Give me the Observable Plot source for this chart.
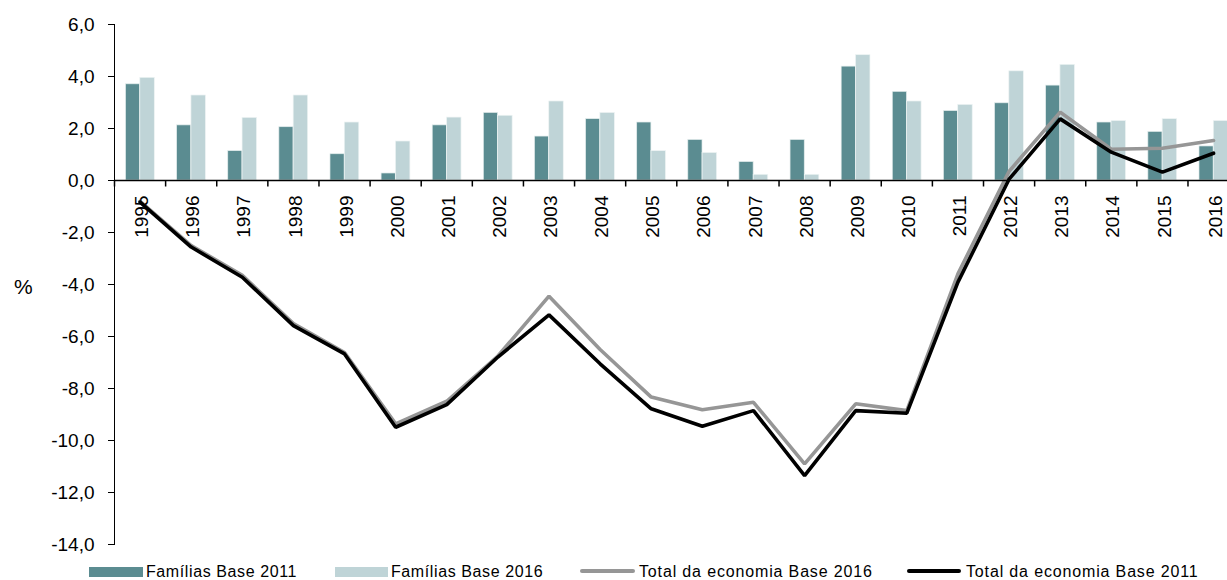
<!DOCTYPE html>
<html>
<head>
<meta charset="utf-8">
<script src="https://cdn.jsdelivr.net/npm/d3@7"></script>
<script src="https://cdn.jsdelivr.net/npm/@observablehq/plot@0.6"></script>
<style>
html, body { margin: 0; padding: 0; background: #fff; }
#wrap { position: relative; width: 1227px; height: 580px; overflow: hidden; font-family: "Liberation Sans", Arial, sans-serif; color: #000; }
#chart svg { display: block; overflow: hidden; }
#pct { position: absolute; left: 14px; top: 276px; font-size: 21px; line-height: 21px; }
.legtext { position: absolute; top: 563px; font-size: 16px; line-height: 18px; white-space: nowrap; }
.sw { position: absolute; }
</style>
</head>
<body>
<div id="wrap">
  <div id="chart"></div>
  <div id="pct">%</div>
  <div id="legend"></div>
</div>
<script>
// ---- data ----
const years = [1995,1996,1997,1998,1999,2000,2001,2002,2003,2004,2005,2006,2007,2008,2009,2010,2011,2012,2013,2014,2015,2016];
const familiasBase2011 = [3.70,2.12,1.13,2.05,1.01,0.27,2.12,2.60,1.69,2.36,2.23,1.56,0.71,1.56,4.38,3.41,2.67,2.97,3.65,2.23,1.87,1.31];
const familiasBase2016 = [3.95,3.27,2.41,3.27,2.23,1.50,2.42,2.49,3.04,2.60,1.13,1.06,0.22,0.22,4.82,3.04,2.91,4.20,4.45,2.29,2.36,2.29];
const totalBase2016 = [-0.80,-2.50,-3.65,-5.50,-6.62,-9.36,-8.49,-6.75,-4.45,-6.50,-8.33,-8.82,-8.53,-10.90,-8.59,-8.85,-3.59,0.35,2.63,1.20,1.24,1.54];
const totalBase2011 = [-0.83,-2.56,-3.72,-5.58,-6.67,-9.49,-8.62,-6.79,-5.17,-7.05,-8.78,-9.45,-8.85,-11.35,-8.85,-8.95,-3.91,0.05,2.37,1.09,0.32,1.05];
const yTicks = [-14,-12,-10,-8,-6,-4,-2,0,2,4,6];
const seriesNames = ["Famílias Base 2011","Famílias Base 2016","Total da economia Base 2016","Total da economia Base 2011"];
const seriesColors = ["#5b8c91","#bfd4d7","#969696","#000000"];

// ---- tables built from the arrays ----
const rows = (vals) => years.map((year, i) => ({year, value: vals[i]}));
const f2011 = rows(familiasBase2011);
const f2016 = rows(familiasBase2016);
const t2016 = rows(totalBase2016);
const t2011 = rows(totalBase2011);
const boundaries = years.map(y => y - 0.5);

const fmt = d => d.toFixed(1).replace(".", ",");

const chart = Plot.plot({
  width: 1227,
  height: 555,
  marginTop: 24,
  marginBottom: 11,
  marginLeft: 114,
  marginRight: 0,
  style: {fontFamily: "Liberation Sans, Arial, sans-serif", fontSize: "19px", color: "#000", background: "#fff"},
  x: {type: "linear", domain: [years[0] - 0.5, years[years.length - 1] + 0.5], range: [114, 1238.6], axis: null},
  y: {domain: [yTicks[0], yTicks[yTicks.length - 1]], ticks: yTicks, tickSize: 6, tickPadding: 14, tickFormat: fmt, label: null, line: true},
  marks: [
    Plot.rect(f2011, {x1: d => d.year - 0.5, x2: d => d.year + 0.5, y1: () => 0, y2: "value", fill: seriesColors[0], stroke: "#e4eded", strokeWidth: 0.7, insetLeft: 11.5, insetRight: 25.4}),
    Plot.rect(f2016, {x1: d => d.year - 0.5, x2: d => d.year + 0.5, y1: () => 0, y2: "value", fill: seriesColors[1], stroke: "#eef4f4", strokeWidth: 0.7, insetLeft: 25.8, insetRight: 10.8}),
    Plot.line(t2016, {x: "year", y: "value", stroke: seriesColors[2], strokeWidth: 3.6, strokeLinejoin: "miter"}),
    Plot.line(t2011, {x: "year", y: "value", stroke: seriesColors[3], strokeWidth: 3.6, strokeLinejoin: "miter"}),
    Plot.ruleY([0], {stroke: "#000", strokeWidth: 1.5}),
    Plot.ruleX(boundaries, {x: d => d, y1: () => 0, y2: () => -0.25, stroke: "#000", strokeWidth: 1.5}),
    Plot.text(years, {x: d => d, y: () => 0, text: d => String(d), rotate: -90, textAnchor: "end", lineAnchor: "middle", dy: 15, dx: 2, fontSize: 19, fill: "#000"})
  ]
});
document.getElementById("chart").appendChild(chart);

// ---- legend (HTML, below the SVG) ----
const legendLayout = [
  {kind: "box",  swLeft: 89,  swWidth: 54, textLeft: 146, ls: 0.6},
  {kind: "box",  swLeft: 335, swWidth: 53, textLeft: 391, ls: 0.6},
  {kind: "line", swLeft: 580, swWidth: 55, textLeft: 639, ls: 0.85},
  {kind: "line", swLeft: 907, swWidth: 54, textLeft: 966, ls: 0.85}
];
const legend = document.getElementById("legend");
seriesNames.forEach((name, i) => {
  const L = legendLayout[i];
  const sw = document.createElement("div");
  sw.className = "sw";
  sw.style.left = L.swLeft + "px";
  sw.style.width = L.swWidth + "px";
  sw.style.background = seriesColors[i];
  if (L.kind === "box") { sw.style.top = "567px"; sw.style.height = "10px"; }
  else { sw.style.top = "569px"; sw.style.height = "4px"; sw.style.borderRadius = "2px"; }
  legend.appendChild(sw);
  const t = document.createElement("div");
  t.className = "legtext";
  t.style.left = L.textLeft + "px";
  t.style.letterSpacing = L.ls + "px";
  t.textContent = name;
  legend.appendChild(t);
});
</script>
</body>
</html>
